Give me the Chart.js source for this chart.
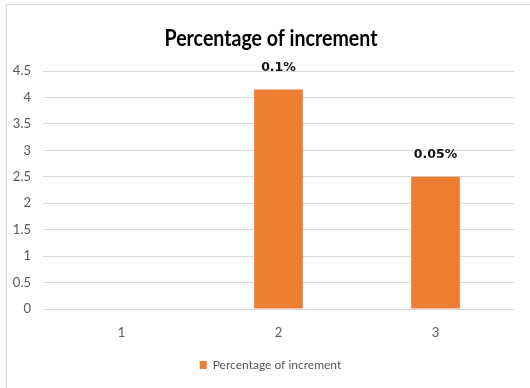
<!DOCTYPE html>
<html>
<head>
<meta charset="utf-8">
<script src="https://cdn.jsdelivr.net/npm/chart.js@4"></script>
<style>
  html, body { margin: 0; padding: 0; background: #fff; }
  #frame { position: absolute; left: 6px; top: 4px; width: 700px; height: 700px; border: 1px solid #d9d9d9; }
  #wrap { position: absolute; left: 0; top: 0; width: 530px; height: 388px; }
</style>
</head>
<body>
<div id="frame"></div>
<div id="wrap"><canvas id="c" width="530" height="388"></canvas></div>
<script>
// Categories, values and the text shown above each bar
const categories = ['1', '2', '3'];
const increment = [0, 4.15, 2.5];
const increaseLabels = ['', '0.1%', '0.05%'];
const seriesName = 'Percentage of increment';
const chartTitle = 'Percentage of increment';

const FONT = '"Lato", sans-serif';
const TEXT_GREY = '#595959';
const GRID = '#d9d9d9';
const ORANGE = '#ed7d31';

// Narrow bold heading drawn in the reserved space above the plot
const headingPlugin = {
  id: 'heading',
  afterDraw(chart) {
    const ctx = chart.ctx;
    ctx.save();
    ctx.font = 'bold 23px ' + FONT;
    ctx.fillStyle = '#000';
    ctx.textAlign = 'center';
    ctx.textBaseline = 'alphabetic';
    ctx.fillText(chartTitle, 271, 45.5, 213);
    ctx.restore();
  }
};

// Nudge the legend row a little left of the plot centre
const legendShiftPlugin = {
  id: 'legendShift',
  afterLayout(chart) {
    const lg = chart.legend;
    if (lg) { lg.left -= 8; lg.right -= 8; }
  }
};

// Bold annotation drawn above every bar
const barTextPlugin = {
  id: 'barText',
  afterDatasetsDraw(chart) {
    const ctx = chart.ctx;
    const meta = chart.getDatasetMeta(0);
    ctx.save();
    ctx.font = 'bold 12.5px "DejaVu Sans", sans-serif';
    ctx.fillStyle = '#141414';
    ctx.textAlign = 'center';
    ctx.textBaseline = 'middle';
    meta.data.forEach((bar, i) => {
      const t = increaseLabels[i];
      if (t) ctx.fillText(t, bar.x, bar.y - 22);
    });
    ctx.restore();
  }
};

new Chart(document.getElementById('c'), {
  type: 'bar',
  data: {
    labels: categories,
    datasets: [{
      label: seriesName,
      data: increment,
      backgroundColor: ORANGE,
      borderWidth: 0,
      categoryPercentage: 0.62,
      barPercentage: 0.5
    }]
  },
  options: {
    responsive: false,
    animation: false,
    layout: { padding: { left: 0, right: 16, top: 71, bottom: 7 } },
    plugins: {
      title: { display: false },
      legend: {
        position: 'bottom',
        fullSize: false,
        labels: {
          color: TEXT_GREY,
          font: { family: FONT, size: 12 },
          boxWidth: 7,
          boxHeight: 8,
          padding: 10
        }
      },
      tooltip: { enabled: false }
    },
    scales: {
      x: {
        grid: { display: false, drawTicks: false },
        border: { display: false },
        ticks: { color: TEXT_GREY, font: { family: FONT, size: 13 }, padding: 16 },
        afterFit(s) { s.height = 40; }
      },
      y: {
        min: 0,
        max: 4.5,
        grid: { color: GRID, lineWidth: 1, drawTicks: false },
        border: { display: false },
        ticks: {
          stepSize: 0.5,
          color: TEXT_GREY,
          font: { family: FONT, size: 13 },
          padding: 12,
          callback: v => String(v)
        },
        afterFit(s) { s.width = 43; }
      }
    }
  },
  plugins: [barTextPlugin, headingPlugin, legendShiftPlugin]
});
</script>
</body>
</html>
